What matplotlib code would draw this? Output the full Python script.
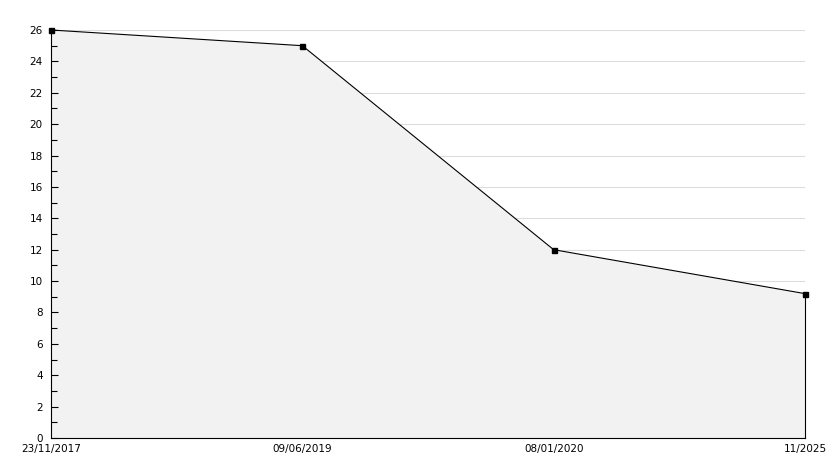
import matplotlib
matplotlib.use("Agg")
import matplotlib.pyplot as plt
from matplotlib.ticker import MultipleLocator

categories = ["23/11/2017", "09/06/2019", "08/01/2020", "11/2025"]
values = [26, 25, 12, 9.2]

W, H = 834, 468
fig = plt.figure(figsize=(W / 100, H / 100), dpi=100)
ax = fig.add_axes([51 / W, 30 / H, (805 - 51) / W, (438 - 30) / H])

x = list(range(len(categories)))
ax.fill_between(x, values, 0, color="#f2f2f2", zorder=2, linewidth=0)
ax.plot(x, values, color="black", linewidth=0.8, zorder=3, clip_on=False)
ax.plot(x, values, linestyle="none", marker="s", markersize=3.6, color="black", zorder=4, clip_on=False)
ax.plot([x[-1], x[-1]], [0, values[-1]], color="black", linewidth=0.8, zorder=3, clip_on=False)

ax.set_xlim(0, len(categories) - 1)
ax.set_ylim(0, 26)
ax.yaxis.set_major_locator(MultipleLocator(2))
ax.yaxis.set_minor_locator(MultipleLocator(1))
ax.set_xticks(x)
ax.set_xticklabels(categories)
for yv in range(2, 27, 2):
    ax.axhline(yv, color="#dddddd", linewidth=0.8, zorder=1)

ax.xaxis.set_zorder(6)
ax.yaxis.set_zorder(6)
for s in ["top", "right"]:
    ax.spines[s].set_visible(False)
for s in ["left", "bottom"]:
    ax.spines[s].set_linewidth(0.8)
    ax.spines[s].set_zorder(5)

ax.tick_params(axis="y", which="major", direction="in", length=5, width=0.8, labelsize=7.5, pad=6)
ax.tick_params(axis="y", which="minor", direction="in", length=4, width=0.8)
ax.tick_params(axis="x", length=0, labelsize=7.5, pad=4)

fig.savefig("out.png", dpi=100)
